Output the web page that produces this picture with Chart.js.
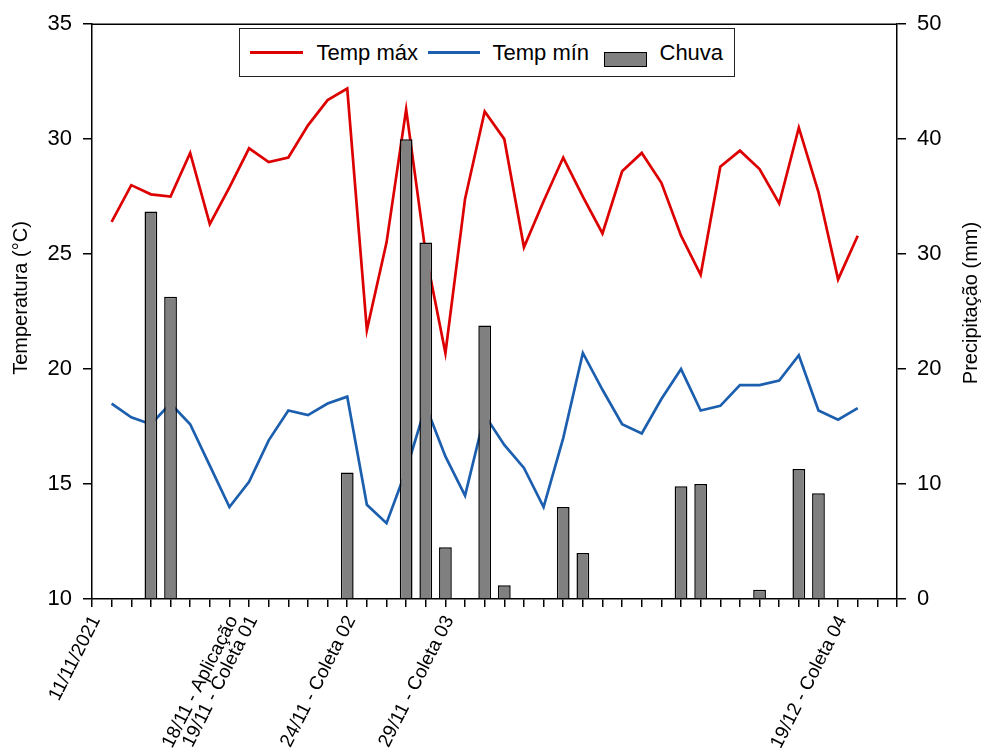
<!DOCTYPE html>
<html>
<head>
<meta charset="utf-8">
<script src="https://cdn.jsdelivr.net/npm/chart.js@4"></script>
<style>
  body { margin: 0; background: #fff; }
  #quadro { position: relative; width: 984px; height: 755px; }
  #legenda {
    position: absolute; left: 239px; top: 28px; width: 496px; height: 49px;
    border: 1.5px solid #222; background: #fff; box-sizing: border-box;
    font-family: 'Liberation Sans', Arial, sans-serif; font-size: 22px; color: #000;
  }
  #legenda span { position: absolute; white-space: nowrap; }
  #legenda .texto { top: 11px; line-height: 25px; }
  #legenda .linha { top: 22px; height: 3px; }
  #legenda .caixa { top: 22.5px; width: 43px; height: 15px; background: #808080; border: 1.5px solid #000; box-sizing: border-box; }
</style>
</head>
<body>
<div id="quadro">
  <canvas id="grafico" width="984" height="755"></canvas>
  <div id="legenda"></div>
</div>
<script>
/* ── Dados ────────────────────────────────────────────── */
const datas = [
  '11/11','12/11','13/11','14/11','15/11','16/11','17/11','18/11','19/11','20/11',
  '21/11','22/11','23/11','24/11','25/11','26/11','27/11','28/11','29/11','30/11',
  '01/12','02/12','03/12','04/12','05/12','06/12','07/12','08/12','09/12','10/12',
  '11/12','12/12','13/12','14/12','15/12','16/12','17/12','18/12','19/12','20/12',
  '21/12','22/12'
];

/* Rótulos que aparecem no eixo X (demais ficam vazios) */
const marcos = {
  '11/11': '11/11/2021',
  '18/11': '18/11 - Aplicação',
  '19/11': '19/11 - Coleta 01',
  '24/11': '24/11 - Coleta 02',
  '29/11': '29/11 - Coleta 03',
  '19/12': '19/12 - Coleta 04'
};

const tempMax = [
  null, 26.4, 28.0, 27.6, 27.5, 29.4, 26.3, 27.9, 29.6, 29.0,
  29.2, 30.6, 31.7, 32.2, 21.7, 25.5, 31.3, 25.0, 20.7, 27.4,
  31.2, 30.0, 25.3, 27.3, 29.2, 27.5, 25.9, 28.6, 29.4, 28.1,
  25.8, 24.1, 28.8, 29.5, 28.7, 27.2, 30.5, 27.7, 23.9, 25.8,
  null, null
];

const tempMin = [
  null, 18.5, 17.9, 17.6, 18.5, 17.6, 15.8, 14.0, 15.1, 16.9,
  18.2, 18.0, 18.5, 18.8, 14.1, 13.3, 15.6, 18.4, 16.2, 14.5,
  18.0, 16.7, 15.7, 14.0, 17.0, 20.7, 19.1, 17.6, 17.2, 18.7,
  20.0, 18.2, 18.4, 19.3, 19.3, 19.5, 20.6, 18.2, 17.8, 18.3,
  null, null
];

const chuva = [
  null, null, null, 33.7, 26.3, null, null, null, null, null,
  null, null, null, 11.0, null, null, 40.0, 31.0, 4.5, null,
  23.8, 1.2, null, null, 8.0, 4.0, null, null, null, null,
  9.8, 10.0, null, null, 0.8, null, 11.3, 9.2, null, null,
  null, null
];

const ticksTemp  = { min: 10, max: 35, passo: 5 };
const ticksChuva = { min: 0, max: 50, passo: 10 };

const tituloTemp  = 'Temperatura (°C)';
const tituloChuva = 'Precipitação (mm)';

/* ── Cores ────────────────────────────────────────────── */
const corMax   = '#dd0000';
const corMin   = '#1c5fae';
const corChuva = '#808080';

Chart.defaults.font.family = "'Liberation Sans', Arial, sans-serif";
Chart.defaults.color = '#000';

/* Moldura superior + títulos verticais dos dois eixos (lidos de baixo p/ cima) */
const moldura = {
  id: 'moldura',
  afterDraw(chart) {
    const { ctx, chartArea: a } = chart;
    ctx.save();
    ctx.strokeStyle = '#000';
    ctx.lineWidth = 1.5;
    ctx.beginPath();
    ctx.moveTo(a.left, a.top);
    ctx.lineTo(a.right, a.top);
    ctx.stroke();

    ctx.fillStyle = '#000';
    ctx.font = "20px 'Liberation Sans', Arial, sans-serif";
    ctx.textAlign = 'center';
    ctx.textBaseline = 'middle';
    [[21, 298, tituloTemp], [971, 303, tituloChuva]].forEach(([x, y, t]) => {
      ctx.save();
      ctx.translate(x, y);
      ctx.rotate(-Math.PI / 2);
      ctx.fillText(t, 0, 0);
      ctx.restore();
    });
    ctx.restore();
  }
};

const eixoGrade = {
  drawOnChartArea: false, drawTicks: true, tickLength: 9,
  color: '#000', lineWidth: 1.5
};

new Chart(document.getElementById('grafico'), {
  type: 'bar',
  data: {
    labels: datas,
    datasets: [
      {
        type: 'line', label: 'Temp máx', data: tempMax,
        borderColor: corMax, borderWidth: 2.7, pointRadius: 0,
        tension: 0, yAxisID: 'y', order: 2
      },
      {
        type: 'line', label: 'Temp mín', data: tempMin,
        borderColor: corMin, borderWidth: 2.7, pointRadius: 0,
        tension: 0, yAxisID: 'y', order: 1
      },
      {
        type: 'bar', label: 'Chuva', data: chuva,
        backgroundColor: corChuva, borderColor: '#000', borderWidth: 1.5,
        categoryPercentage: 1, barPercentage: 0.65,
        yAxisID: 'y2', order: 0
      }
    ]
  },
  options: {
    responsive: false,
    animation: false,
    layout: { padding: { top: 19, left: 0, right: 0, bottom: 0 } },
    plugins: { legend: { display: false }, tooltip: { enabled: false } },
    scales: {
      x: {
        type: 'category',
        offset: false,
        grid: { ...eixoGrade, offset: false, tickLength: 8 },
        border: { color: '#000', width: 1.5 },
        ticks: {
          autoSkip: false, minRotation: 63, maxRotation: 63,
          padding: 5, labelOffset: 4, font: { size: 19 },
          callback: (v, i) => marcos[datas[i]] || ''
        },
        afterFit: s => { s.height = 156; }
      },
      y: {
        position: 'left',
        min: ticksTemp.min, max: ticksTemp.max,
        grid: eixoGrade,
        border: { color: '#000', width: 1.5 },
        ticks: { stepSize: ticksTemp.passo, padding: 11, font: { size: 22 } },
        afterFit: s => { s.width = 92; }
      },
      y2: {
        position: 'right',
        min: ticksChuva.min, max: ticksChuva.max,
        grid: eixoGrade,
        border: { color: '#000', width: 1.5 },
        ticks: { stepSize: ticksChuva.passo, padding: 11, font: { size: 22 } },
        afterFit: s => { s.width = 87; }
      }
    }
  },
  plugins: [moldura]
});

/* ── Legenda em HTML sobre a área do gráfico ──────────── */
const legenda = document.getElementById('legenda');
legenda.innerHTML =
  `<span class="linha" style="left:9.5px;width:53px;background:${corMax}"></span>` +
  `<span class="texto" style="left:76.5px">Temp máx</span>` +
  `<span class="linha" style="left:187.5px;width:52px;background:${corMin}"></span>` +
  `<span class="texto" style="left:252.5px">Temp mín</span>` +
  `<span class="caixa" style="left:363.5px"></span>` +
  `<span class="texto" style="left:419.5px">Chuva</span>`;
</script>
</body>
</html>
